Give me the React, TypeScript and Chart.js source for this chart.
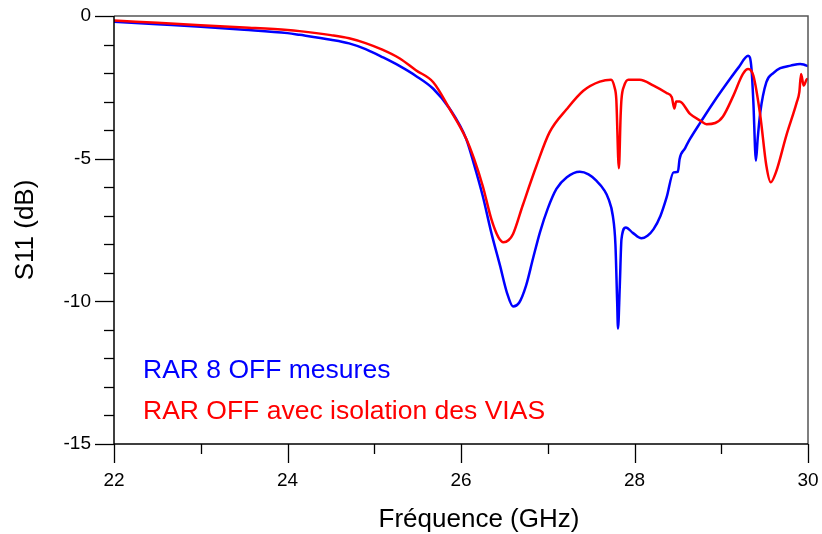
import React, { useEffect, useRef } from 'react';
import { Chart, registerables } from 'chart.js';

Chart.register(...registerables);

const blueLabel = 'RAR 8 OFF mesures';
const redLabel = 'RAR OFF avec isolation des VIAS';
const xTitle = 'Fréquence (GHz)';
const yTitle = 'S11 (dB)';

const blueFreq = [
  22.0, 22.5, 23.0, 23.5, 24.0, 24.14, 24.5, 24.71, 24.9, 25.1, 25.29, 25.48, 25.68, 25.87, 26.06, 26.15,
  26.25, 26.35, 26.45, 26.53, 26.6, 26.67, 26.75, 26.83, 26.91, 27.0, 27.1, 27.22, 27.37, 27.47, 27.56,
  27.65, 27.7, 27.75, 27.78, 27.8, 27.81, 27.83, 27.85, 27.9, 27.98, 28.08, 28.15, 28.22, 28.3, 28.37,
  28.45, 28.5, 28.52, 28.58, 28.64, 28.76, 28.91, 29.1, 29.2, 29.31, 29.33, 29.35, 29.37, 29.4, 29.42,
  29.45, 29.52, 29.6, 29.68, 29.8, 29.91, 29.95, 30.0,
];
const blueS11 = [
  -0.2, -0.29, -0.38, -0.48, -0.6, -0.66, -0.83, -0.96, -1.16, -1.45, -1.75, -2.1, -2.55, -3.25, -4.31, -5.2,
  -6.3, -7.6, -8.75, -9.7, -10.18, -10.05, -9.45, -8.5, -7.58, -6.75, -6.06, -5.65, -5.46, -5.55, -5.77,
  -6.1, -6.41, -7.0, -8.0, -10.0, -10.95, -9.5, -7.82, -7.41, -7.6, -7.79, -7.7, -7.47, -7.0, -6.36,
  -5.48, -5.46, -5.01, -4.65, -4.31, -3.73, -3.03, -2.21, -1.8, -1.39, -1.45, -1.9, -3.0, -5.07, -4.3,
  -3.38, -2.32, -2.0, -1.83, -1.74, -1.68, -1.7, -1.76,
];

const redFreq = [
  22.0, 22.5, 23.0, 23.5, 24.0, 24.14, 24.5, 24.71, 24.9, 25.1, 25.29, 25.48, 25.68, 25.87, 26.06, 26.15,
  26.25, 26.35, 26.43, 26.49, 26.55, 26.6, 26.71, 26.87, 27.02, 27.22, 27.41, 27.6, 27.73, 27.77, 27.79,
  27.82, 27.84, 27.85, 27.88, 27.93, 28.06, 28.22, 28.37, 28.43, 28.46, 28.48, 28.52, 28.64, 28.76, 28.83,
  28.93, 29.02, 29.14, 29.25, 29.31, 29.37, 29.45, 29.52, 29.57, 29.63, 29.75, 29.87, 29.9, 29.92, 29.95,
  29.99, 30.0,
];
const redS11 = [
  -0.16, -0.24, -0.32, -0.4, -0.49, -0.53, -0.67, -0.78, -0.95, -1.19, -1.48, -1.9, -2.32, -3.26, -4.3, -5.0,
  -5.95, -7.12, -7.75, -7.93, -7.85, -7.64, -6.65, -5.25, -4.08, -3.26, -2.62, -2.3, -2.23, -2.5, -2.91,
  -5.34, -3.5, -2.91, -2.45, -2.23, -2.23, -2.44, -2.7, -2.85, -3.24, -3.0, -3.0, -3.43, -3.67, -3.79,
  -3.75, -3.52, -2.79, -2.03, -1.86, -2.09, -3.49, -5.25, -5.83, -5.48, -4.19, -3.03, -2.67, -2.03, -2.44,
  -2.21, -2.25,
];

const xMin = 22;
const xMax = 30;
const xStep = 2;
const yMin = -15;
const yMax = 0;
const yStep = 5;

const FONT = "Arial, 'Liberation Sans', Helvetica, sans-serif";

const decorPlugin = {
  id: 'decor',
  afterDraw(chart: any) {
    const { ctx, chartArea: a, scales } = chart;
    const x = scales.x;
    const y = scales.y;
    ctx.save();
    // top/right frame
    ctx.strokeStyle = '#555555';
    ctx.lineWidth = 1.5;
    ctx.beginPath();
    ctx.moveTo(a.left, a.top);
    ctx.lineTo(a.right, a.top);
    ctx.lineTo(a.right, a.bottom);
    ctx.stroke();
    // axes
    ctx.strokeStyle = '#000000';
    ctx.lineWidth = 1.5;
    ctx.beginPath();
    ctx.moveTo(a.left, a.top);
    ctx.lineTo(a.left, a.bottom);
    ctx.lineTo(a.right, a.bottom);
    ctx.stroke();
    // y ticks
    ctx.lineWidth = 1.3;
    for (let v = yMin; v <= yMax; v += 1) {
      const py = Math.round(y.getPixelForValue(v)) + 0.5;
      const len = v % yStep === 0 ? 19 : 10;
      ctx.beginPath();
      ctx.moveTo(a.left - len, py);
      ctx.lineTo(a.left, py);
      ctx.stroke();
    }
    // x ticks
    for (let v = xMin; v <= xMax; v += 1) {
      const px = Math.round(x.getPixelForValue(v)) + 0.5;
      const len = v % xStep === 0 ? 19 : 10;
      ctx.beginPath();
      ctx.moveTo(px, a.bottom);
      ctx.lineTo(px, a.bottom + len);
      ctx.stroke();
    }
    // legend texts
    ctx.font = `26.5px ${FONT}`;
    ctx.textAlign = 'left';
    ctx.textBaseline = 'alphabetic';
    ctx.fillStyle = '#0000ff';
    ctx.fillText(blueLabel, a.left + 29, 378);
    ctx.fillStyle = '#ff0000';
    ctx.fillText(redLabel, a.left + 29, 419);
    // axis titles
    ctx.fillStyle = '#000000';
    ctx.font = `26px ${FONT}`;
    ctx.textAlign = 'center';
    ctx.fillText(xTitle, 479, 527);
    ctx.translate(33, (a.top + a.bottom) / 2);
    ctx.rotate(-Math.PI / 2);
    ctx.fillText(yTitle, 0, 0);
    ctx.restore();
  },
};

export default function App() {
  const ref = useRef<HTMLCanvasElement | null>(null);
  useEffect(() => {
    if (!ref.current) return;
    const chart = new Chart(ref.current, {
      type: 'line',
      data: {
        datasets: [
          {
            label: redLabel,
            data: redFreq.map((f, i) => ({ x: f, y: redS11[i] })),
            borderColor: '#ff0000',
            borderWidth: 2.5,
            pointRadius: 0,
            cubicInterpolationMode: 'monotone',
            fill: false,
          },
          {
            label: blueLabel,
            data: blueFreq.map((f, i) => ({ x: f, y: blueS11[i] })),
            borderColor: '#0000ff',
            borderWidth: 2.5,
            pointRadius: 0,
            cubicInterpolationMode: 'monotone',
            fill: false,
          },
        ],
      },
      options: {
        animation: false,
        responsive: false,
        maintainAspectRatio: false,
        layout: { padding: { top: 16, right: 14, left: 0, bottom: 0 } },
        plugins: { legend: { display: false }, tooltip: { enabled: false } },
        scales: {
          x: {
            type: 'linear',
            min: xMin,
            max: xMax,
            grid: { display: false, drawTicks: false },
            border: { display: false },
            ticks: {
              stepSize: xStep,
              padding: 25,
              color: '#000000',
              font: { size: 19, family: FONT },
            },
            afterFit: (s: any) => {
              s.height = 90;
              s.paddingLeft = 0;
              s.paddingRight = 0;
              s.paddingTop = 0;
              s.paddingBottom = 0;
            },
          },
          y: {
            type: 'linear',
            min: yMin,
            max: yMax,
            grid: { display: false, drawTicks: false },
            border: { display: false },
            ticks: {
              stepSize: yStep,
              padding: 23,
              color: '#000000',
              font: { size: 19, family: FONT },
            },
            afterFit: (s: any) => {
              s.width = 114;
              s.paddingLeft = 0;
              s.paddingRight = 0;
              s.paddingTop = 0;
              s.paddingBottom = 0;
            },
          },
        },
      },
      plugins: [decorPlugin],
    } as any);
    return () => chart.destroy();
  }, []);
  return (
    <div style={{ position: 'fixed', left: 0, top: 0, width: 822, height: 534, background: '#ffffff' }}>
      <canvas ref={ref} width={822} height={534} style={{ width: 822, height: 534, display: 'block' }} />
    </div>
  );
}
